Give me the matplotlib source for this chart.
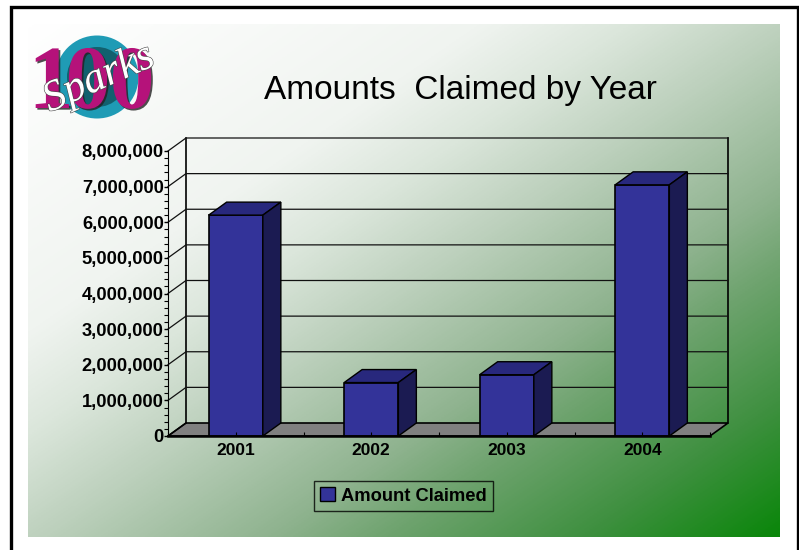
import numpy as np
import matplotlib
matplotlib.use("Agg")
import matplotlib.pyplot as plt
import matplotlib.patheffects as pe
from matplotlib.colors import LinearSegmentedColormap
from matplotlib.patches import Circle, Patch, Polygon
from matplotlib.ticker import FuncFormatter, MultipleLocator

plt.rcParams['font.family'] = ['Liberation Sans', 'DejaVu Sans']

years = ["2001", "2002", "2003", "2004"]
amounts = [6200000, 1500000, 1720000, 7050000]
series_name = "Amount Claimed"
title = "Amounts  Claimed by Year"
y_max = 8000000

W, H = 799, 550
DX = 18 / 135.5                # depth of the 3d box, in categories
DY = 13 / 285.0 * y_max        # and in y units
BAR = 0.4

fig = plt.figure(figsize=(W / 100, H / 100), dpi=100, facecolor="white")

# page: frame and diagonal background
bg = fig.add_axes([0, 0, 1, 1])
bg.axis("off")
xx, yy = np.meshgrid(np.linspace(0, 1, 300), np.linspace(0, 1, 300))
grad = (xx + yy) / 2
cmap = LinearSegmentedColormap.from_list("page", [
    (0.0, "#ffffff"), (0.3, "#f0f4f0"), (0.4, "#dbe6db"), (0.5, "#bfd2bf"), (0.66, "#8fb38f"),
    (0.74, "#6ea36e"), (0.87, "#3f9040"), (1.0, "#0a860a")])
bg.imshow(grad, extent=[28, 780, 537, 24], cmap=cmap, vmin=0, vmax=1, aspect="auto")
bg.set_xlim(0, W)
bg.set_ylim(H, 0)
bg.plot([10.5, 10.5, 798, 798], [H, 6.5, 6.5, H], color="black", lw=2.4, solid_joinstyle="miter")

# logo
bg.add_patch(Circle((97, 77), 41.5, fc="#1f9bb5", ec="none"))
bg.add_patch(Circle((97, 77), 30, fc="#12606e", ec="none"))
shadow = [pe.withSimplePatchShadow(offset=(1.2, -1.2), shadow_rgbFace="#222222", alpha=0.8)]
for x, digit in zip([51, 88, 132], "100"):
    bg.text(x, 108, digit, family="Liberation Serif", weight="bold", size=65, color="#b5127a",
            ha="center", va="baseline", path_effects=shadow)
bg.text(99, 79, "Sparks", family="Liberation Serif", style="italic", size=31, color="white",
        rotation=24, ha="center", va="center",
        path_effects=[pe.withStroke(linewidth=0.8, foreground="#444444")])

bg.text(460, 90, title, size=24, ha="center", va="center", color="black")

# chart, axes = the front plane of the 3d box
ax = fig.add_axes([168 / W, (H - 436) / H, 542 / W, 285 / H])
ax.patch.set_visible(False)
ax.set_xlim(0, len(years))
ax.set_ylim(0, y_max)
for s in ["top", "right"]:
    ax.spines[s].set_visible(False)
ax.spines["bottom"].set_linewidth(1.8)
ax.spines["bottom"].set_zorder(2.4)
n = len(years)

# floor and walls
ax.add_patch(Polygon([(0, 0), (n, 0), (n + DX, DY), (DX, DY)], closed=True, fc="#808080",
                     ec="black", lw=1.2, clip_on=False, zorder=1))
ax.plot([DX, DX], [DY, y_max + DY], color="black", lw=1.2, clip_on=False, zorder=1)
ax.plot([n + DX, n + DX], [DY, y_max + DY], color="black", lw=1.2, clip_on=False, zorder=1)
for v in np.arange(1000000, y_max + 1, 1000000):
    ax.plot([0, DX, n + DX], [v, v + DY, v + DY], color="#111111", lw=0.9, clip_on=False, zorder=1)
ax.plot([0, DX], [0, DY], color="black", lw=1.0, clip_on=False, zorder=1)

# bars
pos = np.arange(n) + 0.5
ax.bar(pos, amounts, width=BAR, color="#333399", edgecolor="black", linewidth=1.2, zorder=2)
for x, v in zip(pos, amounts):
    l, r = x - BAR / 2, x + BAR / 2
    ax.add_patch(Polygon([(l, v), (r, v), (r + DX, v + DY), (l + DX, v + DY)], closed=True,
                         fc="#28287d", ec="black", lw=1.0, clip_on=False, zorder=2))
    ax.add_patch(Polygon([(r, 0), (r + DX, DY), (r + DX, v + DY), (r, v)], closed=True,
                         fc="#1b1b52", ec="black", lw=1.0, clip_on=False, zorder=2))

ax.set_axisbelow(False)
ax.yaxis.set_major_locator(MultipleLocator(1000000))
ax.yaxis.set_minor_locator(MultipleLocator(200000))
ax.yaxis.set_major_formatter(FuncFormatter(lambda v, p: f"{int(v):,}"))
ax.xaxis.set_major_locator(MultipleLocator(0.5))
ax.tick_params(axis="y", which="major", length=3, width=1, pad=0, labelsize=13.2)
ax.tick_params(axis="y", which="minor", length=3, width=0.8)
ax.tick_params(axis="x", which="major", direction="in", length=3, width=0.8, labelbottom=False)
for lab in ax.get_yticklabels():
    lab.set_fontweight("bold")
for x, name in zip(pos, years):
    ax.annotate(name, (x, 0), xytext=(0, -10.5), textcoords="offset points", ha="center",
                va="center", weight="bold", size=12.5)

leg = fig.legend(handles=[Patch(fc="#333399", ec="black", label=series_name)],
                 loc="center", bbox_to_anchor=(403.5 / W, (H - 496) / H),
                 frameon=True, fancybox=False, facecolor="none", edgecolor="black",
                 handlelength=0.8, handleheight=0.8, handletextpad=0.35, borderpad=0.32,
                 borderaxespad=0, prop={"weight": "bold", "size": 13.2})
leg.get_frame().set_linewidth(1.0)

fig.savefig("out.png", dpi=100)
